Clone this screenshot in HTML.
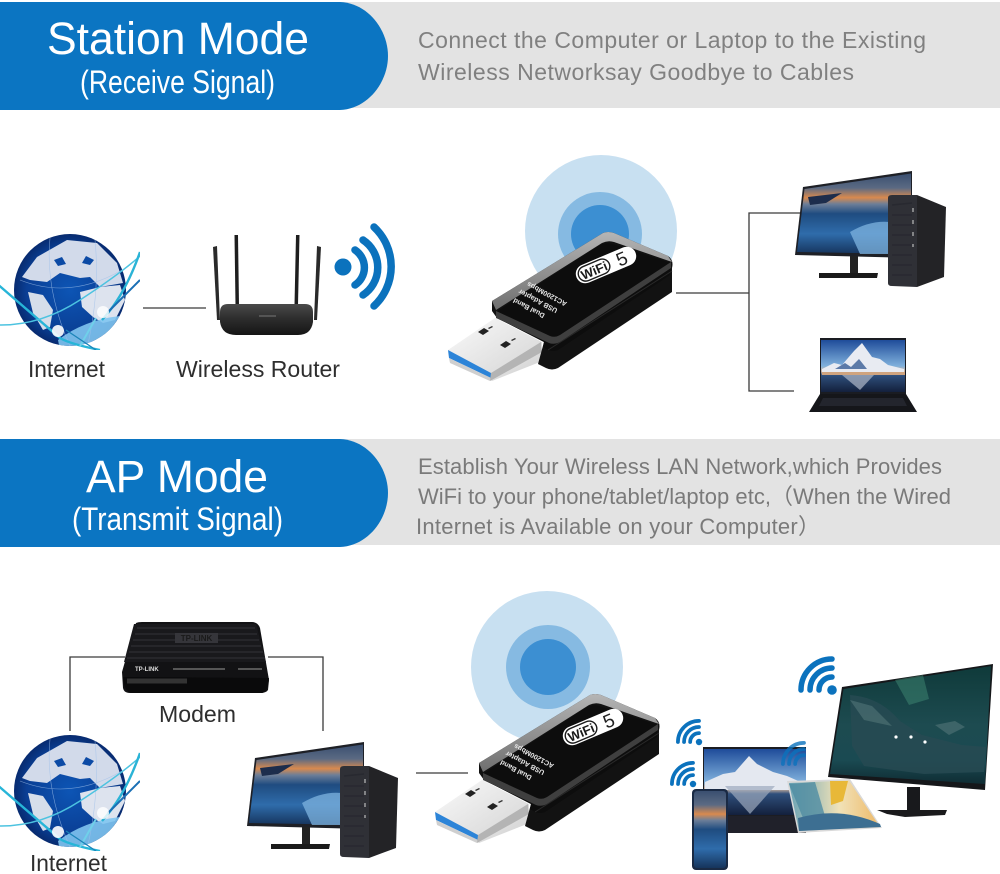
<!DOCTYPE html>
<html lang="en"><head><meta charset="utf-8"><title>Station Mode and AP Mode</title>
<style>
html,body{margin:0;padding:0;background:#fff}
svg{display:block}
text{font-family:"Liberation Sans",Arial,sans-serif}
.hd{fill:#fff}
.gr{fill:#808080;font-size:23px}
.gs{fill:#7a7a7a;font-size:22px}
.lb{fill:#2e2e2e;font-size:23px}
.ln{fill:none;stroke:#3a3a3a;stroke-width:1.3}
</style></head><body>
<svg width="1000" height="874" viewBox="0 0 1000 874" xmlns="http://www.w3.org/2000/svg">
<defs>
<linearGradient id="sun" x1="0" y1="0" x2="0" y2="1">
<stop offset="0" stop-color="#3a4f70"/><stop offset=".18" stop-color="#5b6a83"/><stop offset=".3" stop-color="#d98a4e"/><stop offset=".38" stop-color="#6c7e98"/><stop offset=".5" stop-color="#1f4c80"/><stop offset=".75" stop-color="#2f6cab"/><stop offset="1" stop-color="#16345c"/>
</linearGradient>
<linearGradient id="sky" x1="0" y1="0" x2="0" y2="1">
<stop offset="0" stop-color="#1f4c9a"/><stop offset=".5" stop-color="#7fb0dc"/><stop offset=".6" stop-color="#d4b7a0"/><stop offset=".68" stop-color="#2f4f7c"/><stop offset="1" stop-color="#13203c"/>
</linearGradient>
<linearGradient id="aur" x1="0" y1="0" x2="0" y2="1">
<stop offset="0" stop-color="#0f3a3a"/><stop offset=".5" stop-color="#1d4b50"/><stop offset=".8" stop-color="#1a4a52"/><stop offset="1" stop-color="#0f2c33"/>
</linearGradient>
<linearGradient id="usb" x1="0" y1="0" x2="1" y2="1">
<stop offset="0" stop-color="#fafafa"/><stop offset="1" stop-color="#d2d2d2"/>
</linearGradient>
<linearGradient id="bar" x1="0" y1="0" x2="0" y2="1">
<stop offset="0" stop-color="#4a4a4a"/><stop offset=".45" stop-color="#2e2e2e"/><stop offset="1" stop-color="#151515"/>
</linearGradient>
<linearGradient id="sail" x1="0" y1="0" x2="1" y2="0">
<stop offset="0" stop-color="#6aa3b5"/><stop offset=".55" stop-color="#f0e2b8"/><stop offset="1" stop-color="#eeb968"/>
</linearGradient>
<linearGradient id="bevel" x1="0" y1="0" x2="0" y2="1">
<stop offset="0" stop-color="#b5b5b5"/><stop offset="1" stop-color="#6f6f6f"/>
</linearGradient>
<radialGradient id="oc" cx=".5" cy=".5" r=".55">
<stop offset="0" stop-color="#0d55b5"/><stop offset=".7" stop-color="#0a3f95"/><stop offset="1" stop-color="#06225f"/>
</radialGradient>
<clipPath id="gc"><circle cx="0" cy="0" r="56"/></clipPath>
<clipPath id="rc"><rect x="-70" y="-60" width="140" height="120"/></clipPath>

<g id="globe">
<circle r="56" fill="url(#oc)"/>
<g clip-path="url(#gc)">
<path d="M-48-13L-33-33-3-50 27-47 47-27 53-7 30-3 20-13 10-12-10-17-23-8-40-10Z" fill="#d2daea"/>
<path d="M-16-30L-8-33-4-26-12-24ZM16-34L24-30 20-25 12-27Z" fill="#0c4aa5"/>
<path d="M-42 2L-27 5-17 20-20 37-27 40-37 23Z" fill="#d6deea"/>
<path d="M10 2L30-3 50-5 55 10 45 30 33 33 23 27 12 17Z" fill="#dde3ee"/>
<path d="M-12 50Q14 30 50 26L26 60-10 60Z" fill="#7fc4ef" opacity=".9"/>
<path d="M-50-10Q0 10 52-20M-20-52Q-25 0 0 56M25-50Q30 0 18 54" fill="none" stroke="#9fc1ea" stroke-width=".6" opacity=".7"/>
</g>
<g clip-path="url(#rc)" fill="none">
<path d="M-75-8L-10 48Q0 54 30 60" stroke="#27b5d8" stroke-width="2.400"/>
<path d="M-72 35Q-30 36 10 10T70-34" stroke="#4cc3e0" stroke-width="1.500"/>
<path d="M32 30Q55 5 70-38" stroke="#2ab3d6" stroke-width="2.400"/>
<path d="M38 22L70-10" stroke="#1a6fb5" stroke-width="2"/>
<path d="M10 56L26 28" stroke="#6fd0ea" stroke-width="2"/>
<path d="M-4 40L26 60" stroke="#1a83b8" stroke-width="1.200"/>
</g>
<circle cx="-12" cy="41" r="6" fill="#fff" opacity=".9"/>
<circle cx="33" cy="22" r="6" fill="#fff" opacity=".8"/>
</g>

<g id="dongle">
<path d="M448 350L495 318 542 342 540 362 492 381Z" fill="url(#usb)"/>
<path d="M448 350L491 373 491 378 449 358Z" fill="#2c84d8"/>
<path d="M449 358L491 378 490 381 450 363Z" fill="#cfcfcf"/>
<path d="M491 373L541 342 542 352 490 381Z" fill="#b4b4b4"/>
<path d="M478 332l6-4 5 3-6 4ZM500 345l6-4 5 3-6 4Z" fill="#222"/>
<path d="M488 328l4-2 1 1-4 2ZM511 340l4-2 1 1-4 2Z" fill="#333"/>
<path d="M492 301L603 233Q608 231 614 233L668 256Q674 260 672 268L672 292 558 368Q552 371 546 368L538 364 544 342 497 318 492 311Z" fill="#121212"/>
<path d="M496 312L600 245Q606 242 612 244L668 262 671 261 670 275 558 350Q553 352 548 350L543 347 544 342 497 318Z" fill="#0d0d0d"/>
<path d="M492 301L603 233Q608 231 614 233L668 256 672 262 614 242Q608 240 602 243L496 310Z" fill="url(#bevel)"/>
<path d="M496 311L550 336Q555 338 560 335L671 262 671 268 560 342Q554 345 549 343L496 318Z" fill="#3f3f3f"/>
<path d="M548 350L672 271" stroke="#2a2a2a" stroke-width="1"/>
<g transform="translate(606 265) rotate(-23)">
<rect x="-32" y="-9.500" width="64" height="19" rx="9.500" fill="#fff"/>
<rect x="-29.500" y="-7.500" width="33" height="15" rx="7.500" fill="#fff" stroke="#1a1a1a" stroke-width="1.400"/>
<text x="-13" y="5" text-anchor="middle" font-size="13" font-weight="bold" fill="#1a1a1a">WiFi</text>
<text x="17" y="7" text-anchor="middle" font-size="19" fill="#222">5</text>
</g>
<g fill="#e8e8e8" font-size="7" font-weight="bold" text-anchor="middle">
<text transform="translate(530 306) rotate(208)">Dual Band</text>
<text transform="translate(539 299) rotate(208)">USB Adapter</text>
<text transform="translate(548 292) rotate(208)">AC1200Mbps</text>
</g>
</g>

<g id="desk">
<path d="M803 187L912 171 912 258 795 255Z" fill="#1e2026"/>
<path d="M804.500 189L911 173.500 911 254 797 252Z" fill="url(#sun)"/>
<path d="M808 197l34-4-16 10-16 2Z" fill="#1d2d4c"/>
<path d="M850 232q20-12 40-10l20 2 0 30h-50Z" fill="#7eb3df" opacity=".75"/>
<path d="M850 256h8v17h-8Z" fill="#222"/>
<path d="M819 273h59l-1 5h-58Z" fill="#1a1a1a"/>
<path d="M917 195L946 207 944 277 917 287Z" fill="#232326"/>
<path d="M888 198Q888 195 892 195L917 195 917 287 892 286Q888 286 888 283Z" fill="#2f3036"/>
<path d="M892 205l20-2M892 215h20M892 225h20M892 235h20M892 245h20M892 255h20M892 265h20M892 275h20" stroke="#282930" stroke-width="1.500"/>
<path d="M913 208v4M913 220v4M913 232v4M913 244v3" stroke="#bbb" stroke-width="1.200"/>
</g>

<g id="wifi" fill="none" stroke="#0b72bd" stroke-linecap="round">
<path d="M-13 0A13 13 0 0 1 0-13"/>
<path d="M-22 0A22 22 0 0 1 0-22"/>
<path d="M-31 0A31 31 0 0 1 0-31"/>
</g>
</defs>

<rect width="1000" height="874" fill="#fff"/>

<!-- Station header -->
<rect x="0" y="2" width="1000" height="106" fill="#e3e3e3"/>
<path d="M0 2H340C368 3 388 30 388 56C388 82 368 109 340 110H0Z" fill="#0b75c2"/>
<text class="hd" x="47" y="54" font-size="45" textLength="262" lengthAdjust="spacingAndGlyphs">Station Mode</text>
<text class="hd" x="80" y="93" font-size="32" textLength="195" lengthAdjust="spacingAndGlyphs">(Receive Signal)</text>
<text class="gr" x="418" y="48" textLength="508" lengthAdjust="spacing">Connect the Computer or Laptop to the Existing</text>
<text class="gr" x="418" y="80" textLength="436" lengthAdjust="spacing">Wireless Networksay Goodbye to Cables</text>

<!-- AP header -->
<rect x="0" y="439" width="1000" height="106" fill="#e3e3e3"/>
<path d="M0 439H340C368 440 388 467 388 493C388 519 368 546 340 547H0Z" fill="#0b75c2"/>
<text class="hd" x="86" y="492" font-size="45" textLength="182" lengthAdjust="spacingAndGlyphs">AP Mode</text>
<text class="hd" x="72" y="530" font-size="32" textLength="211" lengthAdjust="spacingAndGlyphs">(Transmit Signal)</text>
<text class="gs" x="418" y="474" textLength="524" lengthAdjust="spacing">Establish Your Wireless LAN Network,which Provides</text>
<text class="gs" x="418" y="504" textLength="533" lengthAdjust="spacing" style='font-family:"Liberation Sans","Noto Sans CJK SC",sans-serif'>WiFi to your phone/tablet/laptop etc,（When the Wired</text>
<text class="gs" x="416" y="534" textLength="404" lengthAdjust="spacing" style='font-family:"Liberation Sans","Noto Sans CJK SC",sans-serif'>Internet is Available on your Computer）</text>

<!-- Station diagram -->
<use href="#globe" x="70" y="290"/>
<text class="lb" x="28" y="377" textLength="77" lengthAdjust="spacingAndGlyphs">Internet</text>
<path class="ln" d="M143 308H206"/>

<!-- router -->
<g>
<path d="M213 247l4-1 3 74h-3Z" fill="#2a2a2a"/>
<path d="M321 247l-4-1-3 74h3Z" fill="#2a2a2a"/>
<path d="M234.500 235h3.500l1 70h-3.500Z" fill="#1e1e1e"/>
<path d="M296 235h3.500l-1.500 70h-3.500Z" fill="#1e1e1e"/>
<path d="M220 312Q220 304 228 304H305Q313 304 313 312L313 322Q311 335 298 335H236Q222 335 220 322Z" fill="url(#bar)"/>
<path d="M259 316h17" stroke="#777" stroke-width="1"/>
</g>
<text class="lb" x="176" y="377" textLength="164" lengthAdjust="spacingAndGlyphs">Wireless Router</text>

<!-- radio waves -->
<circle cx="343" cy="267" r="8.500" fill="#0b72bd"/>
<g fill="none" stroke="#0b72bd" stroke-width="7.500" stroke-linecap="round">
<path d="M355 250A21 21 0 0 1 355 285"/>
<path d="M363 240A33 33 0 0 1 363 295"/>
<path d="M374 227A54 54 0 0 1 374 306"/>
</g>

<circle cx="601" cy="231" r="76" fill="#c8e0f1"/>
<circle cx="600" cy="234" r="42" fill="#86bae2"/>
<circle cx="600" cy="234" r="29" fill="#3c8fd2"/>
<use href="#dongle"/>

<path class="ln" d="M676 293H749M805 213H749V391H794"/>
<use href="#desk"/>

<!-- laptop -->
<path d="M820 338H906V394H820Z" fill="#1a1c22"/>
<rect x="821" y="340" width="84" height="52" fill="url(#sky)"/>
<path d="M822 369l12-6 8 2 12-14 8-8 10 14 8 2 8 6 16 4v3H822Z" fill="#e8ebf2"/>
<path d="M835 369l10-6 6 4 8-8 8 10Z" fill="#5c7aa8"/>
<path d="M822 372H905V375H822Z" fill="#d0a47f"/>
<path d="M842 375l18 15 14-15Z" fill="#a7b0c2" opacity=".75"/>
<path d="M820 394H906L917 412H809Z" fill="#15161a"/>
<path d="M823 398H903L907 406H819Z" fill="#23252d"/>

<!-- AP diagram -->
<path class="ln" d="M70 731V657H125M268 657H323V731"/>
<g>
<path d="M136 623Q138 622 142 622H252Q258 622 260 628L269 680 268 690Q266 693 260 693H130Q124 693 123 688L122 672Z" fill="#121214"/>
<path d="M134 624h122l10 38-142 0Z" fill="#19191c"/>
<path d="M137 628h118M135 634h122M133 640h126M131 646h130M129 652h134M127 658h138" stroke="#2a2a2e" stroke-width="1.400"/>
<rect x="175" y="633" width="43" height="10" fill="#35353a"/>
<text x="196.500" y="641" text-anchor="middle" font-size="8" font-weight="bold" fill="#1a1a1a">TP-LINK</text>
<path d="M123 677Q124 692 132 693H262Q268 692 269 678Z" fill="#0a0a0b"/>
<path d="M127 681h60" stroke="#555" stroke-width="5" opacity=".55"/>
<text x="135" y="671" font-size="6" font-weight="bold" fill="#ddd">TP-LINK</text>
<path d="M173 669h52M238 669h24" stroke="#999" stroke-width="1"/>
</g>
<text class="lb" x="159" y="722" textLength="77" lengthAdjust="spacingAndGlyphs">Modem</text>

<use href="#globe" x="70" y="791"/>
<text class="lb" x="30" y="871" textLength="77" lengthAdjust="spacingAndGlyphs">Internet</text>

<use href="#desk" x="-548" y="571"/>
<path class="ln" d="M416 773H468"/>

<circle cx="547" cy="667" r="76" fill="#c8e0f1"/>
<circle cx="548" cy="667" r="42" fill="#86bae2"/>
<circle cx="548" cy="667" r="28" fill="#3c8fd2"/>
<use href="#dongle" x="-13" y="462"/>

<!-- AP devices -->
<path d="M842 687L993 664 985 790 828 777Z" fill="#15171a"/>
<path d="M843.500 689L991 666 985 784 830 774Z" fill="url(#aur)"/>
<path d="M895 680l28-5 6 24-20 6Z" fill="#3f8a73" opacity=".5"/>
<path d="M850 695q30 2 50 26l22 14 40 10 24 2-2 25-60 2-60-8-12-20Z" fill="#274a52" opacity=".85"/>
<path d="M850 700l22 6 20 20-28-6ZM935 725l20-4 10 6-16 8Z" fill="#4c6f72" opacity=".7"/>
<circle cx="896" cy="737" r="1.600" fill="#fff"/><circle cx="911" cy="737" r="1.600" fill="#fff"/><circle cx="925" cy="742" r="1.600" fill="#fff"/>
<path d="M907 787h13v23h-13Z" fill="#18191c"/>
<path d="M877 810h70l-2 5-40 2-18-3Z" fill="#1a1a1c"/>

<rect x="703" y="747" width="103" height="86" fill="#1c1d22"/>
<rect x="704" y="749" width="102" height="66" fill="url(#sky)"/>
<path d="M705 782l18-8 12-2 14-16 8 8 16 8 14 4 18 8v6H705Z" fill="#e4e8f0"/>
<path d="M725 786l25 28 25-28Z" fill="#9da9bd" opacity=".7"/>
<rect x="704" y="816" width="100" height="17" fill="#20212a"/>

<path d="M787 781L850 779 882 828 798 833Z" fill="#d9d9d9"/>
<path d="M789 783L849 780.500 880 827 799 831Z" fill="url(#sail)"/>
<path d="M830 781h18l-5 20-12 4Z" fill="#e8b838"/>
<path d="M789 784l26-2 10 34-22 2Z" fill="#4f8ca3" opacity=".8"/>
<path d="M798 818Q840 806 880 824L881 827 799 831Z" fill="#3d6f92"/>

<rect x="692" y="789" width="36" height="81" rx="4" fill="#1a2a44"/>
<rect x="694" y="791" width="32" height="77" rx="3" fill="url(#sun)"/>

<use href="#wifi" x="832" y="690" stroke-width="5.500"/>
<circle cx="832" cy="690" r="4.800" fill="#0b72bd"/>
<use href="#wifi" transform="translate(699 742) scale(.68)" stroke-width="5.500"/>
<circle cx="699" cy="742" r="3.200" fill="#0b72bd"/>
<use href="#wifi" transform="translate(693 784) scale(.68)" stroke-width="5.500"/>
<circle cx="693" cy="784" r="3.200" fill="#0b72bd"/>
<use href="#wifi" transform="translate(804 764) scale(.68)" stroke-width="5.500" opacity=".8"/>
</svg>
</body></html>
